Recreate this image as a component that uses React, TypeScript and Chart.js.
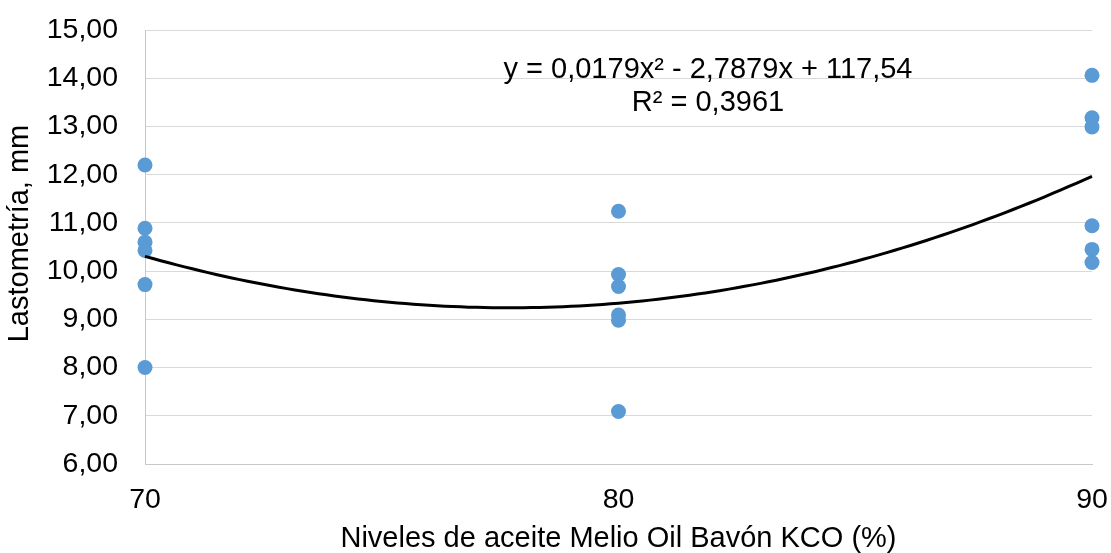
import React, { useEffect, useRef } from "react";
import { Chart, registerables } from "chart.js";

Chart.register(...registerables);

// ---- Data ----
const levels = [70, 80, 90];
const lastometry70 = [12.2, 10.89, 10.6, 10.43, 9.72, 8.0];
const lastometry80 = [11.24, 9.93, 9.68, 9.09, 8.98, 7.09];
const lastometry90 = [14.06, 13.18, 12.99, 10.94, 10.45, 10.18];
const xTickValues = [70, 80, 90];
const yTickValues = [6, 7, 8, 9, 10, 11, 12, 13, 14, 15];
const xTitle = "Niveles de aceite Melio Oil Bavón KCO (%)";
const yTitle = "Lastometría, mm";
const equationLabel = "y = 0,0179x² - 2,7879x + 117,54";
const r2Label = "R² = 0,3961";

const FONT = '"Liberation Sans", Arial, Helvetica, sans-serif';

type Pt = { x: number; y: number };

function buildPoints(): Pt[] {
  const groups = [lastometry70, lastometry80, lastometry90];
  const pts: Pt[] = [];
  groups.forEach((g, i) => g.forEach((v) => pts.push({ x: levels[i], y: v })));
  return pts;
}

// Least-squares quadratic fit of the observed points (Excel "polynomial, order 2" trendline)
function fitQuadratic(pts: Pt[]): [number, number, number] {
  const S = [0, 0, 0, 0, 0];
  const T = [0, 0, 0];
  pts.forEach(({ x, y }) => {
    for (let k = 0; k < 5; k++) S[k] += Math.pow(x, k);
    for (let k = 0; k < 3; k++) T[k] += y * Math.pow(x, k);
  });
  const M = [
    [S[0], S[1], S[2], T[0]],
    [S[1], S[2], S[3], T[1]],
    [S[2], S[3], S[4], T[2]],
  ];
  for (let i = 0; i < 3; i++) {
    let p = i;
    for (let r = i + 1; r < 3; r++) if (Math.abs(M[r][i]) > Math.abs(M[p][i])) p = r;
    [M[i], M[p]] = [M[p], M[i]];
    for (let r = 0; r < 3; r++) {
      if (r === i) continue;
      const f = M[r][i] / M[i][i];
      for (let c = i; c < 4; c++) M[r][c] -= f * M[i][c];
    }
  }
  const c0 = M[0][3] / M[0][0];
  const b = M[1][3] / M[1][1];
  const a = M[2][3] / M[2][2];
  return [a, b, c0];
}

function clearScalePadding(s: any) {
  s.paddingTop = 0;
  s.paddingBottom = 0;
  s.paddingLeft = 0;
  s.paddingRight = 0;
}

const annotationPlugin = {
  id: "trendAnnotation",
  afterDraw(chart: any) {
    const { ctx, chartArea } = chart;
    const w = chartArea.right - chartArea.left;
    ctx.save();
    ctx.fillStyle = "#000";
    ctx.font = `29px ${FONT}`;
    ctx.textAlign = "center";
    ctx.textBaseline = "middle";
    const cx = chartArea.left + w * 0.5945;
    ctx.fillText(equationLabel, cx, chartArea.top + 40);
    ctx.fillText(r2Label, cx, chartArea.top + 73);
    // vertical axis title
    ctx.translate(20, 233.5);
    ctx.rotate(-Math.PI / 2);
    ctx.fillText(yTitle, 0, 0);
    ctx.restore();
  },
};

export default function App() {
  const ref = useRef<HTMLCanvasElement | null>(null);

  useEffect(() => {
    if (!ref.current) return;
    const pts = buildPoints();
    const [a, b, c] = fitQuadratic(pts);
    const xmin = levels[0];
    const xmax = levels[levels.length - 1];
    const trend: Pt[] = [];
    const n = 120;
    for (let i = 0; i <= n; i++) {
      const x = xmin + ((xmax - xmin) * i) / n;
      trend.push({ x, y: a * x * x + b * x + c });
    }

    const chart = new Chart(ref.current, {
      type: "scatter",
      data: {
        datasets: [
          {
            type: "line",
            label: "Polinómica",
            data: trend,
            borderColor: "#000000",
            borderWidth: 3,
            pointRadius: 0,
            fill: false,
            tension: 0,
            order: 0,
            clip: false as any,
          } as any,
          {
            type: "scatter",
            label: "Lastometría",
            data: pts,
            backgroundColor: "#5B9BD5",
            borderColor: "#5B9BD5",
            borderWidth: 0,
            pointRadius: 7.5,
            pointHoverRadius: 7.5,
            order: 1,
            clip: false as any,
          } as any,
        ],
      },
      options: {
        animation: false,
        responsive: false,
        maintainAspectRatio: false,
        layout: { padding: { top: 30, right: 19, left: 0, bottom: 0 } },
        plugins: {
          legend: { display: false },
          tooltip: { enabled: false },
        },
        scales: {
          x: {
            type: "linear",
            min: xmin,
            max: xmax,
            afterBuildTicks: (s: any) => {
              s.ticks = xTickValues.map((v) => ({ value: v }));
            },
            afterFit: (s: any) => {
              s.height = 89;
              clearScalePadding(s);
            },
            grid: { display: false, drawTicks: false },
            border: { display: true, color: "#c8c8c8", width: 1 },
            ticks: {
              autoSkip: false,
              maxRotation: 0,
              padding: 19,
              color: "#000",
              font: { family: FONT, size: 28.5 },
              callback: (v: any) => String(v),
            },
            title: {
              display: true,
              text: xTitle,
              color: "#000",
              font: { family: FONT, size: 29, lineHeight: 1 },
              padding: { top: 0, bottom: 0 },
            },
          },
          y: {
            type: "linear",
            min: yTickValues[0],
            max: yTickValues[yTickValues.length - 1],
            afterBuildTicks: (s: any) => {
              s.ticks = yTickValues.map((v) => ({ value: v }));
            },
            afterFit: (s: any) => {
              s.width = 145;
              clearScalePadding(s);
            },
            grid: { display: true, color: "#d9d9d9", lineWidth: 1, drawTicks: false },
            border: { display: true, color: "#c8c8c8", width: 1 },
            ticks: {
              autoSkip: false,
              padding: 27,
              color: "#000",
              font: { family: FONT, size: 28.5 },
              callback: (v: any) => Number(v).toFixed(2).replace(".", ","),
            },
            title: { display: false, text: yTitle },
          },
        },
      },
      plugins: [annotationPlugin],
    } as any);
    return () => chart.destroy();
  }, []);

  return (
    <div style={{ position: "fixed", left: 0, top: 0, width: 1111, height: 553, background: "#fff" }}>
      <canvas ref={ref} width={1111} height={553} style={{ display: "block", width: 1111, height: 553 }} />
    </div>
  );
}
